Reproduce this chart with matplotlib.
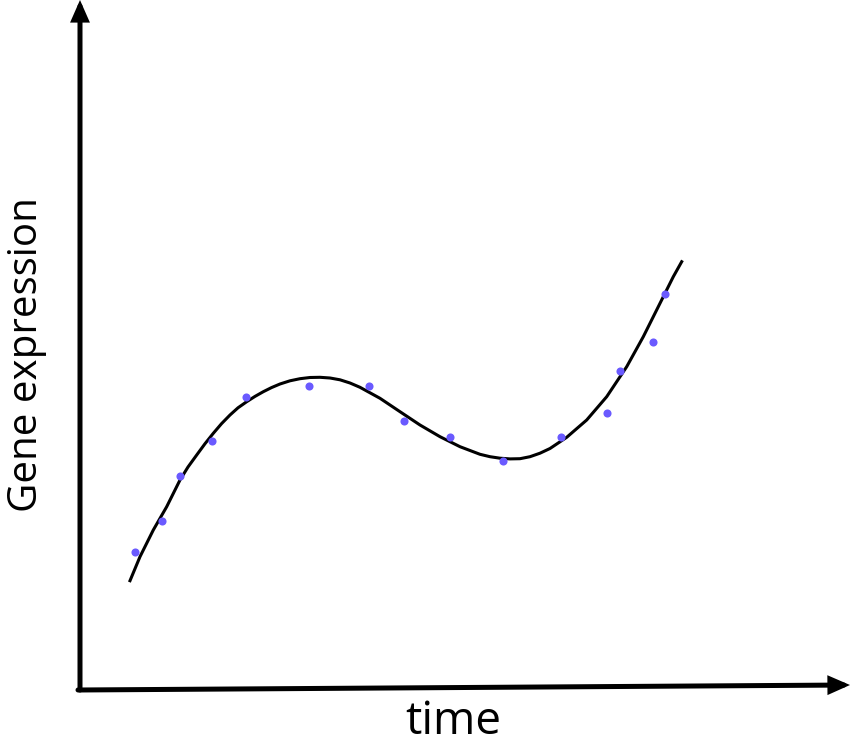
import matplotlib
matplotlib.use("Agg")
import matplotlib.pyplot as plt

# measured points (arbitrary units: time, expression)
time_pts = [55.7, 83.0, 100.7, 133.3, 166.7, 229.7, 290.3, 325.3, 370.7,
            424.3, 482.0, 528.3, 541.3, 574.0, 585.7]
expr_pts = [137.7, 169.0, 214.3, 249.0, 293.3, 303.7, 303.7, 269.0, 253.3,
            229.3, 253.3, 277.3, 319.3, 348.3, 395.7]

# fitted trend curve
time_fit = [51, 61, 74.3, 87.7, 101, 109, 117.7, 126, 134.3, 142.5, 151,
            159, 167.7, 176, 184.3, 192.5, 201, 211, 221, 231, 241, 251,
            261, 271, 281, 301, 321, 341, 361, 381, 401, 411, 421, 431, 441,
            451, 461, 471, 487.7, 507.7, 527.7, 547.7, 564.3, 581, 594.3,
            602.7]
expr_fit = [109.3, 133.3, 160, 183.3, 210, 223, 235, 246.3, 256.7, 266.3,
            275, 282.2, 288.3, 293.6, 298.3, 302.4, 306, 309.2, 311.3, 312.5,
            312.7, 312, 310.2, 307, 302.7, 291.7, 278.3, 265, 253.3, 243.3,
            235.7, 233.3, 231.8, 231.1, 231.3, 233.3, 236.8, 241.5, 252.7,
            270, 293.3, 323.3, 353.3, 386.7, 413.3, 428.3]

fig = plt.figure(figsize=(8.52, 7.46), dpi=100)
ax = fig.add_axes([0, 0, 1, 1])
ax.set_xlim(-79, 773)
ax.set_ylim(-56, 690)
ax.axis("off")

# axes arrows
arrow = dict(arrowstyle="-|>,head_width=0.22,head_length=0.5", lw=3.6,
             color="black", shrinkA=0, shrinkB=0, mutation_scale=20,
             joinstyle="miter")
ax.annotate("", xy=(1, 690), xytext=(1, 0), arrowprops=arrow)
ax.annotate("", xy=(771, 5), xytext=(-1, 0), arrowprops=arrow)

ax.plot(time_fit, expr_fit, color="black", lw=2.2, solid_joinstyle="round")
ax.scatter(time_pts, expr_pts, s=34, color="#6a5aff", zorder=3, linewidths=0)

fig.text(453 / 852, 1 - 734 / 746, "time", family="Open Sans", fontsize=33,
         ha="center", va="baseline")
fig.text(27 / 852, 1 - 355 / 746, "Gene expression", family="Open Sans",
         fontsize=29, rotation=90, ha="center", va="center")

fig.savefig("out.png", dpi=100)
